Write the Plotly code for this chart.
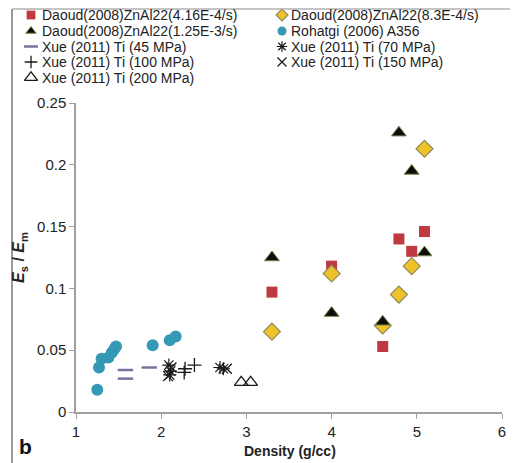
import plotly.graph_objects as go

# ---- data ----
daoud_416_x = [3.30, 4.00, 4.60, 4.79, 4.94, 5.09]
daoud_416_y = [0.097, 0.118, 0.053, 0.140, 0.130, 0.146]
daoud_83_x = [3.30, 4.00, 4.60, 4.79, 4.94, 5.09]
daoud_83_y = [0.065, 0.112, 0.070, 0.095, 0.118, 0.213]
daoud_125_x = [3.30, 4.00, 4.60, 4.79, 4.94, 5.09]
daoud_125_y = [0.125, 0.080, 0.073, 0.226, 0.195, 0.129]
rohatgi_x = [1.25, 1.27, 1.30, 1.38, 1.42, 1.45, 1.47, 1.90, 2.10, 2.17]
rohatgi_y = [0.018, 0.036, 0.043, 0.044, 0.048, 0.051, 0.053, 0.054, 0.058, 0.061]
xue45_x = [1.58, 1.58, 1.86]
xue45_y = [0.034, 0.027, 0.036]
xue70_x = [2.09, 2.11, 2.10, 2.69, 2.73]
xue70_y = [0.038, 0.033, 0.030, 0.036, 0.035]
xue100_x = [2.27, 2.28, 2.39]
xue100_y = [0.032, 0.035, 0.038]
xue150_x = [2.08, 2.12, 2.77]
xue150_y = [0.029, 0.036, 0.035]
xue200_x = [2.94, 3.05]
xue200_y = [0.024, 0.024]

x_ticks = [1, 2, 3, 4, 5, 6]
y_ticks = [0, 0.05, 0.1, 0.15, 0.2, 0.25]
y_ticktext = ["0", "0.05", "0.1", "0.15", "0.2", "0.25"]

series_names = [
    "Daoud(2008)ZnAl22(4.16E-4/s)", "Daoud(2008)ZnAl22(8.3E-4/s)",
    "Daoud(2008)ZnAl22(1.25E-3/s)", "Rohatgi (2006) A356",
    "Xue (2011) Ti (45 MPa)", "Xue (2011) Ti (70 MPa)",
    "Xue (2011) Ti (100 MPa)", "Xue (2011) Ti (150 MPa)",
    "Xue (2011) Ti (200 MPa)",
]
series_x = [daoud_416_x, daoud_83_x, daoud_125_x, rohatgi_x, xue45_x, xue70_x, xue100_x, xue150_x, xue200_x]
series_y = [daoud_416_y, daoud_83_y, daoud_125_y, rohatgi_y, xue45_y, xue70_y, xue100_y, xue150_y, xue200_y]

FONT = "Liberation Sans, Arial, sans-serif"
# the page body adds an 8px margin, so the figure is drawn 8px in and is 8px smaller
OFF = 8
W, H = 518 - OFF, 463 - OFF
BLK = "#1a1a1a"
markers = [
    dict(symbol="square", size=11, color="#be3a40", line=dict(width=0)),
    dict(symbol="diamond", size=13, color="#efc229", line=dict(width=1.2, color="#8c8a5c")),
    dict(symbol="triangle-up", size=13, color="#0d0d0d", line=dict(width=1, color="#7a8a4a")),
    dict(symbol="circle", size=12, color="#3499b4", line=dict(width=0)),
    dict(symbol="line-ew-open", size=11, color="#8070a2", line=dict(width=2.5, color="#8070a2")),
    dict(symbol="asterisk-open", size=11, color=BLK, line=dict(width=1.2, color=BLK)),
    dict(symbol="cross-thin-open", size=10, color=BLK, line=dict(width=1.3, color=BLK)),
    dict(symbol="x-thin-open", size=10, color=BLK, line=dict(width=1.3, color=BLK)),
    dict(symbol="triangle-up-open", size=12, color=BLK, line=dict(width=1.3, color=BLK)),
]
legend_scale = [0.8, 0.7, 0.7, 0.75, 0.9, 0.8, 0.9, 0.9, 0.95]

# plot area in window pixels (shifted into figure pixels)
PL, PR, PT, PB = 76 - OFF, 502 - OFF, 103 - OFF, 412 - OFF

fig = go.Figure()
for name, xs, ys, mk in zip(series_names, series_x, series_y, markers):
    fig.add_trace(go.Scatter(x=xs, y=ys, mode="markers", name=name, marker=mk,
                             showlegend=False, xaxis="x", yaxis="y"))

# manual legend (two columns) on a full-figure pixel overlay axis
col_sym = [31 - OFF, 282 - OFF]
col_txt = [40 - OFF, 289 - OFF]
row_y = [15 - OFF, 31 - OFF, 46.5 - OFF, 62 - OFF, 77.5 - OFF]
for i, (name, mk, sc) in enumerate(zip(series_names, markers, legend_scale)):
    r, c = divmod(i, 2)
    lm = dict(mk)
    lm["size"] = mk["size"] * sc
    fig.add_trace(go.Scatter(x=[col_sym[c]], y=[row_y[r]], mode="markers", marker=lm,
                             showlegend=False, xaxis="x2", yaxis="y2", hoverinfo="skip"))
    fig.add_annotation(text=name, xref="x2", yref="y2", x=col_txt[c], y=row_y[r],
                       xanchor="left", yanchor="middle", showarrow=False,
                       font=dict(family=FONT, size=14, color="#222222"))

axis_common = dict(showgrid=False, zeroline=False, showline=True, linecolor="#a0a0a0",
                   linewidth=1.5, ticks="outside", ticklen=5, tickcolor="#a0a0a0",
                   automargin=False,
                   tickfont=dict(family=FONT, size=15, color="#222222"))

fig.update_layout(
    width=W, height=H,
    margin=dict(l=0, r=0, t=0, b=0, autoexpand=False),
    paper_bgcolor="white", plot_bgcolor="rgba(0,0,0,0)",
    font=dict(family=FONT, size=14, color="#222222"),
    showlegend=False,
    xaxis=dict(domain=[PL / W, PR / W], anchor="y", range=[1, 6], tickvals=x_ticks,
               **axis_common),
    yaxis=dict(domain=[(H - PB) / H, (H - PT) / H], anchor="x", range=[0, 0.25],
               tickvals=y_ticks, ticktext=y_ticktext,
               title=dict(text="<b><i>E</i><sub>s</sub> / <i>E</i><sub>m</sub></b>",
                          font=dict(family=FONT, size=16, color="#222222"), standoff=8),
               **axis_common),
    xaxis2=dict(domain=[0, 1], anchor="y2", range=[0, W], visible=False, fixedrange=True),
    yaxis2=dict(domain=[0, 1], anchor="x2", range=[H, 0], visible=False, fixedrange=True),
)

# x-axis title placed as text under the tick labels
fig.add_annotation(text="<b>Density (g/cc)</b>", xref="x2", yref="y2", x=290 - OFF, y=451 - OFF,
                   xanchor="center", yanchor="middle", showarrow=False,
                   font=dict(family=FONT, size=14, color="#222222"))

# outer frame (left edge, top edge and a faint right edge)
FRAME_L, FRAME_R = 12 - OFF, 511 - OFF
fig.add_shape(type="line", xref="x2", yref="y2", x0=FRAME_L, x1=FRAME_L, y0=1, y1=H,
              line=dict(color="#9a9a9a", width=2), layer="above")
fig.add_shape(type="line", xref="x2", yref="y2", x0=FRAME_L, x1=FRAME_R, y0=1, y1=1,
              line=dict(color="#b0b0b0", width=1.5), layer="above")
fig.add_shape(type="line", xref="x2", yref="y2", x0=FRAME_R, x1=FRAME_R, y0=1, y1=H,
              line=dict(color="#e2e2e2", width=1), layer="above")

fig.add_annotation(text="<b>b</b>", xref="x2", yref="y2", x=17 - OFF, y=446 - OFF,
                   xanchor="left", yanchor="middle", showarrow=False,
                   font=dict(family=FONT, size=21, color="#111111"))

fig.write_html("out.html")
